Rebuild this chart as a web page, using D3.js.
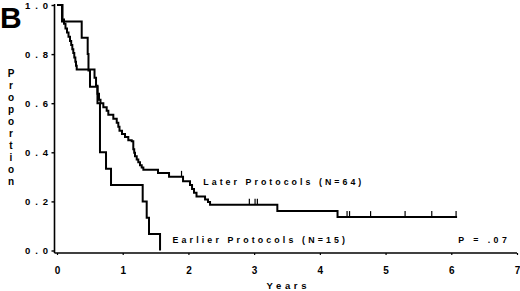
<!DOCTYPE html>
<html>
<head>
<meta charset="utf-8">
<script src="https://cdn.jsdelivr.net/npm/d3@7"></script>
<style>
body { margin: 0; background: #fff; }
text { font-family: "Liberation Sans", Arial, sans-serif; font-weight: bold; fill: #000; }
</style>
</head>
<body>
<script>
window.onload = main;

// Later protocols (N=64): step times (years) and survival after each step
const laterTimes = [0.084, 0.107, 0.129, 0.152, 0.175, 0.198, 0.216, 0.233, 0.248, 0.263, 0.279, 0.289, 0.300,
    0.571, 0.594, 0.616, 0.639, 0.662, 0.705, 0.756, 0.781, 0.857, 0.909, 0.933, 0.951, 0.989, 1.035, 1.085,
    1.137, 1.161, 1.175, 1.187, 1.213, 1.237, 1.263, 1.289, 1.314, 1.537, 1.705, 1.918, 2.024, 2.055, 2.085,
    2.123, 2.253, 2.298, 2.329, 3.353, 4.269];
const laterSurv = [0.941, 0.924, 0.904, 0.888, 0.871, 0.853, 0.837, 0.820, 0.804, 0.786, 0.769, 0.753, 0.737,
    0.704, 0.671, 0.639, 0.614, 0.600, 0.584, 0.569, 0.553, 0.537, 0.520, 0.504, 0.488, 0.475, 0.462, 0.449,
    0.445, 0.412, 0.398, 0.384, 0.371, 0.359, 0.347, 0.338, 0.329, 0.316, 0.300, 0.282, 0.267, 0.251, 0.235,
    0.220, 0.208, 0.198, 0.186, 0.161, 0.136];
const laterCensored = [1.895, 2.927, 3.014, 3.049, 4.414, 4.452, 4.772, 5.297, 5.703, 6.073];
const laterEnd = 6.088;

// Earlier protocols (N=15)
const earlierTimes = [0.076, 0.376, 0.467, 0.479, 0.502, 0.616, 0.654, 0.746, 0.822, 1.304, 1.365, 1.400, 1.568];
const earlierSurv = [0.933, 0.867, 0.800, 0.733, 0.667, 0.600, 0.400, 0.333, 0.267, 0.200, 0.133, 0.067, 0.0];

const xTicks = [0, 1, 2, 3, 4, 5, 6, 7];
const yTicks = [0, 0.2, 0.4, 0.6, 0.8, 1.0];

const svgWidth = 520;
const svgHeight = 291;

const scaleX = d3.scaleLinear().domain([0, 7]).range([57, 517]);
const scaleY = d3.scaleLinear().domain([0, 1]).range([250.5, 5]);

function main() {
    const svg = d3.select('body')
        .append('svg')
        .attr('width', svgWidth)
        .attr('height', svgHeight);

    render_axes(svg);
    render_curve(svg, laterTimes, laterSurv, laterEnd, laterCensored);
    render_curve(svg, earlierTimes, earlierSurv, null, []);
    render_labels(svg);
}

function render_axes(svg) {
    const axisX = scaleX(0) - 2.5; // asse y leggermente staccato dallo 0
    const axisY = 253;

    svg.append('line')
        .attr('x1', axisX).attr('x2', axisX)
        .attr('y1', scaleY(1) - 1).attr('y2', axisY)
        .attr('stroke', '#000').attr('stroke-width', 1.6);
    svg.append('line')
        .attr('x1', axisX).attr('x2', scaleX(7))
        .attr('y1', axisY).attr('y2', axisY)
        .attr('stroke', '#000').attr('stroke-width', 1.6);

    svg.append('g')
        .attr('transform', `translate(${axisX}, 0)`)
        .call(d3.axisLeft(scaleY)
            .tickValues(yTicks)
            .tickFormat(d3.format('.1f'))
            .tickSize(3)
            .tickPadding(3.5))
        .call(g => g.select('.domain').remove())
        .call(g => g.selectAll('line').attr('stroke', '#000').attr('stroke-width', 1.4))
        .call(g => g.selectAll('text')
            .attr('font-size', 9.5)
            .attr('font-family', null)
            .attr('textLength', 23)
            .attr('lengthAdjust', 'spacing'));

    svg.append('g')
        .attr('transform', `translate(0, ${axisY})`)
        .call(d3.axisBottom(scaleX)
            .tickValues(xTicks)
            .tickFormat(d3.format('d'))
            .tickSize(2)
            .tickPadding(12))
        .call(g => g.select('.domain').remove())
        .call(g => g.selectAll('line').attr('stroke', '#000').attr('stroke-width', 1.2))
        .call(g => g.selectAll('text')
            .attr('font-size', 10)
            .attr('font-family', null));
}

function render_curve(svg, times, surv, end, censored) {
    const points = [[0, 1]].concat(times.map((t, i) => [t, surv[i]]));
    if (end !== null)
        points.push([end, surv[surv.length - 1]]);

    const line = d3.line()
        .x(d => scaleX(d[0]))
        .y(d => scaleY(d[1]))
        .curve(d3.curveStepAfter);

    svg.append('path')
        .datum(points)
        .attr('d', line)
        .attr('fill', 'none')
        .attr('stroke', '#000')
        .attr('stroke-width', 2);

    // tacche dei dati censurati
    const surv_at = t => {
        const i = d3.bisectRight(times, t);
        return i === 0 ? 1 : surv[i - 1];
    };
    svg.selectAll(null)
        .data(censored)
        .join('line')
        .attr('x1', d => scaleX(d)).attr('x2', d => scaleX(d))
        .attr('y1', d => scaleY(surv_at(d)))
        .attr('y2', d => scaleY(surv_at(d)) - 6)
        .attr('stroke', '#000')
        .attr('stroke-width', 1.2);
}

function render_labels(svg) {
    svg.append('text')
        .attr('x', 0).attr('y', 28)
        .attr('font-size', 30)
        .text('B');

    svg.selectAll(null)
        .data('Proportion'.split(''))
        .join('text')
        .attr('x', 11)
        .attr('y', (d, i) => 77 + i * 12)
        .attr('text-anchor', 'middle')
        .attr('font-size', 10)
        .text(d => d);

    svg.append('text')
        .attr('x', 266.5).attr('y', 289)
        .attr('font-size', 9.5)
        .attr('textLength', 40).attr('lengthAdjust', 'spacing')
        .text('Years');

    svg.append('text')
        .attr('x', 203.3).attr('y', 185.3)
        .attr('font-size', 8.8)
        .attr('textLength', 158).attr('lengthAdjust', 'spacing')
        .text('Later Protocols (N=64)');

    svg.append('text')
        .attr('x', 172.5).attr('y', 242.7)
        .attr('font-size', 8.8)
        .attr('textLength', 172.5).attr('lengthAdjust', 'spacing')
        .text('Earlier Protocols (N=15)');

    svg.append('text')
        .attr('x', 458.3).attr('y', 242.7)
        .attr('font-size', 8.8)
        .attr('textLength', 48.5).attr('lengthAdjust', 'spacing')
        .text('P = .07');
}
</script>
</body>
</html>
